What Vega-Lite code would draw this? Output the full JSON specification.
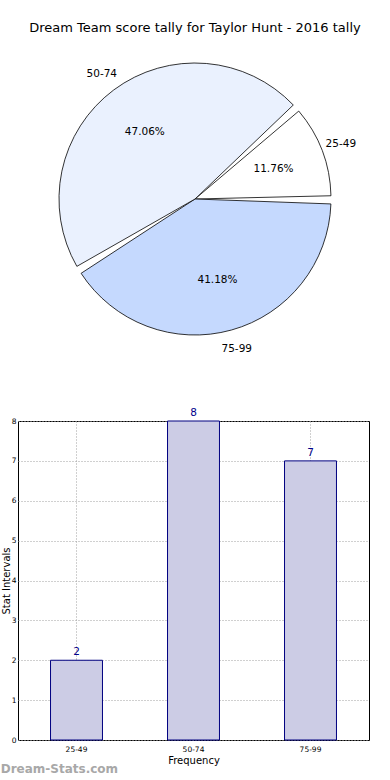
{
  "$schema": "https://vega.github.io/schema/vega-lite/v6.json",
  "padding": {"left": 0, "top": 22, "right": 4, "bottom": 2},
  "config": {
    "font": "DejaVu Sans",
    "view": {"stroke": null},
    "title": {"font": "DejaVu Sans", "fontWeight": "normal", "color": "#000000"}
  },
  "title": {
    "text": "Dream-Stats.com",
    "orient": "bottom",
    "anchor": "start",
    "frame": "bounds",
    "fontSize": 12,
    "fontWeight": "bold",
    "color": "#a8a8a8",
    "offset": -2
  },
  "datasets": {
    "tally": [
      {"cat": "25-49", "count": 2, "pct": "11.76%", "ord": 1},
      {"cat": "75-99", "count": 7, "pct": "41.18%", "ord": 2},
      {"cat": "50-74", "count": 8, "pct": "47.06%", "ord": 3}
    ],
    "bars": [
      {"cat": "25-49", "count": 2},
      {"cat": "50-74", "count": 8},
      {"cat": "75-99", "count": 7}
    ]
  },
  "spacing": 52,
  "vconcat": [
    {
      "width": 354,
      "height": 300,
      "title": {"text": "Dream Team score tally for Taylor Hunt - 2016 tally", "fontSize": 13, "offset": 14, "anchor": "middle"},
      "data": {"name": "tally"},
      "encoding": {
        "theta": {"field": "count", "type": "quantitative", "stack": true, "scale": {"range": [0.8378, 7.121]}},
        "order": {"field": "ord", "type": "quantitative"}
      },
      "layer": [
        {
          "mark": {"type": "arc", "outerRadius": 136, "padAngle": 0.06, "stroke": "#000000", "strokeWidth": 0.8},
          "encoding": {
            "color": {"field": "cat", "type": "nominal", "legend": null,
              "scale": {"domain": ["25-49", "50-74", "75-99"], "range": ["#ffffff", "#eaf1fe", "#c5d9fe"]}}
          }
        },
        {
          "mark": {"type": "text", "radius": 84, "fontSize": 10.5, "color": "#000000"},
          "encoding": {"text": {"field": "pct", "type": "nominal"}}
        },
        {
          "mark": {"type": "text", "radius": 156, "fontSize": 10.5, "color": "#000000"},
          "encoding": {"text": {"field": "cat", "type": "nominal"}}
        }
      ]
    },
    {
      "width": 351,
      "height": 319,
      "view": {"stroke": "#000000", "strokeWidth": 1},
      "data": {"name": "bars"},
      "encoding": {
        "x": {"field": "cat", "type": "nominal", "sort": null,
          "scale": {"paddingInner": 0.556, "paddingOuter": 0.278},
          "axis": {"title": "Frequency", "titleFontSize": 10, "titleFontWeight": "normal", "titlePadding": 3,
            "labelAngle": 0, "labelFontSize": 7.5, "labelPadding": 5, "domain": false, "ticks": false,
            "grid": true, "bandPosition": 0.5, "gridDash": [1, 2], "gridColor": "#a0a0a0", "gridOpacity": 1}},
        "y": {"field": "count", "type": "quantitative",
          "scale": {"domain": [0, 8], "nice": false},
          "axis": {"title": "Stat Intervals", "titleFontSize": 10, "titleFontWeight": "normal", "titlePadding": 0,
            "labelFontSize": 7.5, "labelPadding": 2, "tickCount": 8, "domain": false, "ticks": false,
            "grid": true, "gridDash": [1, 2], "gridColor": "#a0a0a0", "gridOpacity": 1}}
      },
      "layer": [
        {
          "mark": {"type": "bar", "fill": "#ccccE5", "stroke": "#000080", "strokeWidth": 1}
        },
        {
          "mark": {"type": "text", "baseline": "bottom", "dy": -3, "fontSize": 10.5, "color": "#00008b"},
          "encoding": {"text": {"field": "count", "type": "quantitative"}}
        }
      ]
    }
  ]
}
